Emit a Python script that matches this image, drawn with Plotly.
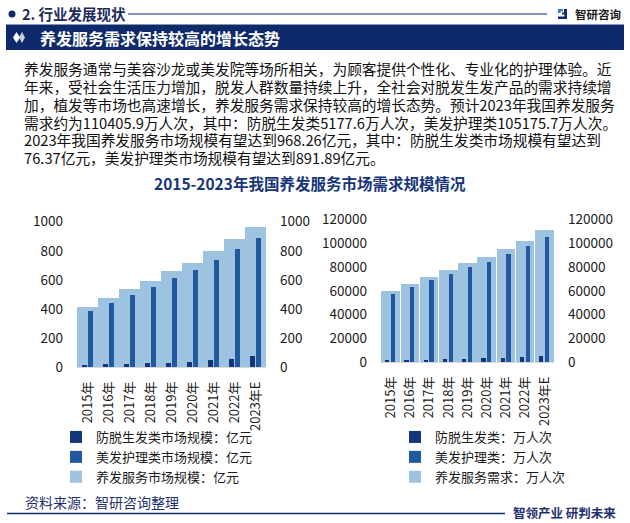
import plotly.graph_objects as go

W, H = 630, 523

# ---------------- data ----------------
years = ["2015年", "2016年", "2017年", "2018年", "2019年", "2020年", "2021年", "2022年", "2023年E"]

# market size, 亿元
hairloss_size = [17, 22, 27, 29, 35, 41, 50, 60, 76.37]
care_size = [389, 444, 499, 551, 613, 668, 737, 812, 891.89]
total_size = [414, 476, 538, 593, 661, 716, 799, 881, 968.26]

# demand, 万人次
hairloss_demand = [1500, 1700, 2000, 2200, 2700, 3000, 3400, 4000, 5177.6]
care_demand = [57300, 63200, 69100, 74100, 80000, 84200, 90900, 97600, 105175.7]
total_demand = [59900, 65700, 71600, 77500, 83400, 88400, 95100, 101800, 110405.9]

size_ticks = [0, 200, 400, 600, 800, 1000]
demand_ticks = [0, 20000, 40000, 60000, 80000, 100000, 120000]

paragraph = [
    "养发服务通常与美容沙龙或美发院等场所相关，为顾客提供个性化、专业化的护理体验。近",
    "年来，受社会生活压力增加，脱发人群数量持续上升，全社会对脱发生发产品的需求持续增",
    "加，植发等市场也高速增长，养发服务需求保持较高的增长态势。预计2023年我国养发服务",
    "需求约为110405.9万人次，其中：防脱生发类5177.6万人次，美发护理类105175.7万人次。",
    "2023年我国养发服务市场规模有望达到968.26亿元，其中：防脱生发类市场规模有望达到",
    "76.37亿元，美发护理类市场规模有望达到891.89亿元。",
]

# ---------------- style ----------------
FONT = "Noto Sans CJK SC"
NAVY = "#0f2a6b"
LIGHT = "#9dc3e0"
MID = "#2158a0"
DARK = "#11367a"
TXT = "#1a1a1a"


def px_x(p):
    return p / W


def px_y(p):
    return 1 - p / H


fig = go.Figure()

# ---- left chart (亿元) ----
fig.add_trace(go.Bar(x=years, y=total_size, name="养发服务市场规模：亿元", marker_color=LIGHT,
                     width=0.97, offset=-0.485, xaxis="x", yaxis="y", legend="legend",
                     legendrank=3))
fig.add_trace(go.Bar(x=years, y=hairloss_size, name="防脱生发类市场规模：亿元", marker_color=DARK,
                     width=0.23, offset=-0.27, xaxis="x", yaxis="y2", legend="legend",
                     legendrank=1))
fig.add_trace(go.Bar(x=years, y=care_size, name="美发护理类市场规模：亿元", marker_color=MID,
                     width=0.23, offset=0.02, xaxis="x", yaxis="y2", legend="legend",
                     legendrank=2))

# ---- right chart (万人次) ----
fig.add_trace(go.Bar(x=years, y=total_demand, name="养发服务需求：万人次", marker_color=LIGHT,
                     width=0.97, offset=-0.485, xaxis="x2", yaxis="y3", legend="legend2",
                     legendrank=3))
fig.add_trace(go.Bar(x=years, y=hairloss_demand, name="防脱生发类：万人次", marker_color=DARK,
                     width=0.22, offset=-0.28, xaxis="x2", yaxis="y4", legend="legend2",
                     legendrank=1))
fig.add_trace(go.Bar(x=years, y=care_demand, name="美发护理类：万人次", marker_color=MID,
                     width=0.22, offset=0.02, xaxis="x2", yaxis="y4", legend="legend2",
                     legendrank=2))

tickfont = dict(family=FONT, size=13.5, color=TXT)
xtickfont = dict(family=FONT, size=13, color=TXT)

xcommon = dict(type="category", tickangle=-90, tickfont=xtickfont, showgrid=False,
               showline=True, linecolor="#d9d9d9", linewidth=1, ticks="", zeroline=False,
               ticklabelstandoff=8, fixedrange=True, automargin=False)

ycommon = dict(showgrid=False, zeroline=False, showline=False, tickfont=tickfont, ticks="",
               ticklabelstandoff=13, fixedrange=True, tickformat="d", automargin=False)

left_dom_x = [px_x(77), px_x(266)]
left_dom_y = [px_y(367.3), px_y(221.7)]
right_dom_x = [px_x(381), px_x(554)]
right_dom_y = [px_y(362.3), px_y(219.3)]

fig.update_layout(
    template="none",
    width=W, height=H, autosize=False,
    margin=dict(l=0, r=0, t=0, b=0, pad=0, autoexpand=False),
    paper_bgcolor="white", plot_bgcolor="rgba(0,0,0,0)",
    barmode="overlay", bargap=0,
    font=dict(family=FONT, color=TXT),
    xaxis=dict(domain=left_dom_x, anchor="y", **xcommon),
    yaxis=dict(domain=left_dom_y, anchor="x", range=[0, 1000], tickvals=size_ticks, side="left", **ycommon),
    yaxis2=dict(overlaying="y", anchor="x", range=[0, 1000], tickvals=size_ticks, side="right", **ycommon),
    xaxis2=dict(domain=right_dom_x, anchor="y3", **xcommon),
    yaxis3=dict(domain=right_dom_y, anchor="x2", range=[0, 120000], tickvals=demand_ticks, side="left", **ycommon),
    yaxis4=dict(overlaying="y3", anchor="x2", range=[0, 120000], tickvals=demand_ticks, side="right", **ycommon),
    legend=dict(x=px_x(56), y=px_y(422), xanchor="left", yanchor="top", orientation="v",
                font=dict(family=FONT, size=13, color=TXT), bgcolor="rgba(0,0,0,0)",
                tracegroupgap=0, itemwidth=30, borderwidth=0),
    legend2=dict(x=px_x(395), y=px_y(422), xanchor="left", yanchor="top", orientation="v",
                 font=dict(family=FONT, size=13, color=TXT), bgcolor="rgba(0,0,0,0)",
                 tracegroupgap=0, itemwidth=30, borderwidth=0),
    showlegend=True,
)

shapes = []
annotations = []

# header: dot, title, line, logo
shapes.append(dict(type="circle", xref="paper", yref="paper",
                   x0=px_x(8.5), x1=px_x(15.5), y0=px_y(17.5), y1=px_y(10.5),
                   fillcolor=NAVY, line=dict(width=0)))
annotations.append(dict(text="<b>2. 行业发展现状</b>", x=px_x(20), y=px_y(14), xref="paper", yref="paper",
                        xanchor="left", yanchor="middle", showarrow=False,
                        font=dict(family=FONT, size=14.5, color="#1c2b5a")))
shapes.append(dict(type="line", xref="paper", yref="paper", x0=px_x(128), x1=px_x(547),
                   y0=px_y(14), y1=px_y(14), line=dict(color=NAVY, width=1)))
# logo icon
shapes.append(dict(type="path", xref="paper", yref="paper",
                   path=f"M {px_x(558)},{px_y(9)} L {px_x(563)},{px_y(9)} L {px_x(563)},{px_y(11.5)} L {px_x(560.5)},{px_y(11.5)} L {px_x(560.5)},{px_y(13)} L {px_x(558)},{px_y(13)} Z",
                   fillcolor="#3d7fd0", line=dict(width=0)))
shapes.append(dict(type="path", xref="paper", yref="paper",
                   path=f"M {px_x(564)},{px_y(9)} L {px_x(567)},{px_y(9)} L {px_x(567)},{px_y(19)} L {px_x(558)},{px_y(19)} L {px_x(558)},{px_y(16.5)} L {px_x(564.5)},{px_y(16.5)} L {px_x(564.5)},{px_y(14.5)} L {px_x(562)},{px_y(14.5)} L {px_x(562)},{px_y(12.5)} L {px_x(564)},{px_y(12.5)} Z",
                   fillcolor=NAVY, line=dict(width=0)))
annotations.append(dict(text="<b>智研咨询</b>", x=px_x(573), y=px_y(14), xref="paper", yref="paper",
                        xanchor="left", yanchor="middle", showarrow=False,
                        font=dict(family=FONT, size=11.5, color="#1a1a1a")))

# banner
shapes.append(dict(type="rect", xref="paper", yref="paper", x0=px_x(6), x1=px_x(624),
                   y0=px_y(50), y1=px_y(24.5), fillcolor=NAVY, line=dict(width=0), layer="below"))
shapes.append(dict(type="path", xref="paper", yref="paper",
                   path=f"M {px_x(19)},{px_y(37.5)} L {px_x(22)},{px_y(32)} L {px_x(25)},{px_y(37.5)} L {px_x(22)},{px_y(43)} Z",
                   fillcolor="#c9cede", line=dict(width=0)))
shapes.append(dict(type="path", xref="paper", yref="paper",
                   path=f"M {px_x(13)},{px_y(37.5)} L {px_x(16.5)},{px_y(32)} L {px_x(20)},{px_y(37.5)} L {px_x(16.5)},{px_y(43)} Z",
                   fillcolor="white", line=dict(width=0)))
annotations.append(dict(text="<b>养发服务需求保持较高的增长态势</b>", x=px_x(38), y=px_y(37.5), xref="paper",
                        yref="paper", xanchor="left", yanchor="middle", showarrow=False,
                        font=dict(family=FONT, size=16, color="white")))

# paragraph
line_y = [69, 87, 104.5, 122, 139.5, 157]
for t, yy in zip(paragraph, line_y):
    annotations.append(dict(text=t, x=px_x(22), y=px_y(yy), xref="paper", yref="paper",
                            xanchor="left", yanchor="middle", showarrow=False,
                            font=dict(family=FONT, size=14.7, color="#111111")))

# chart title
annotations.append(dict(text="<b>2015-2023年我国养发服务市场需求规模情况</b>", x=px_x(310), y=px_y(183),
                        xref="paper", yref="paper", xanchor="center", yanchor="middle", showarrow=False,
                        font=dict(family=FONT, size=15.5, color="#16357a")))

# footer
annotations.append(dict(text="资料来源：智研咨询整理", x=px_x(23), y=px_y(502), xref="paper", yref="paper",
                        xanchor="left", yanchor="middle", showarrow=False,
                        font=dict(family=FONT, size=14, color="#1f3170")))
shapes.append(dict(type="line", xref="paper", yref="paper", x0=px_x(7), x1=px_x(505),
                   y0=px_y(513.5), y1=px_y(513.5), line=dict(color=NAVY, width=1.5)))
annotations.append(dict(text="<b>智领产业 研判未来</b>", x=px_x(618), y=px_y(512), xref="paper", yref="paper",
                        xanchor="right", yanchor="middle", showarrow=False,
                        font=dict(family=FONT, size=12.5, color="#1f3170")))

fig.update_layout(shapes=shapes, annotations=annotations)

fig.write_html(
    "out.html",
    config={"displayModeBar": False},
    post_script="document.body.style.margin='0';document.body.style.padding='0';"
                "document.body.style.overflow='hidden';"
                "document.documentElement.style.overflow='hidden';",
)
